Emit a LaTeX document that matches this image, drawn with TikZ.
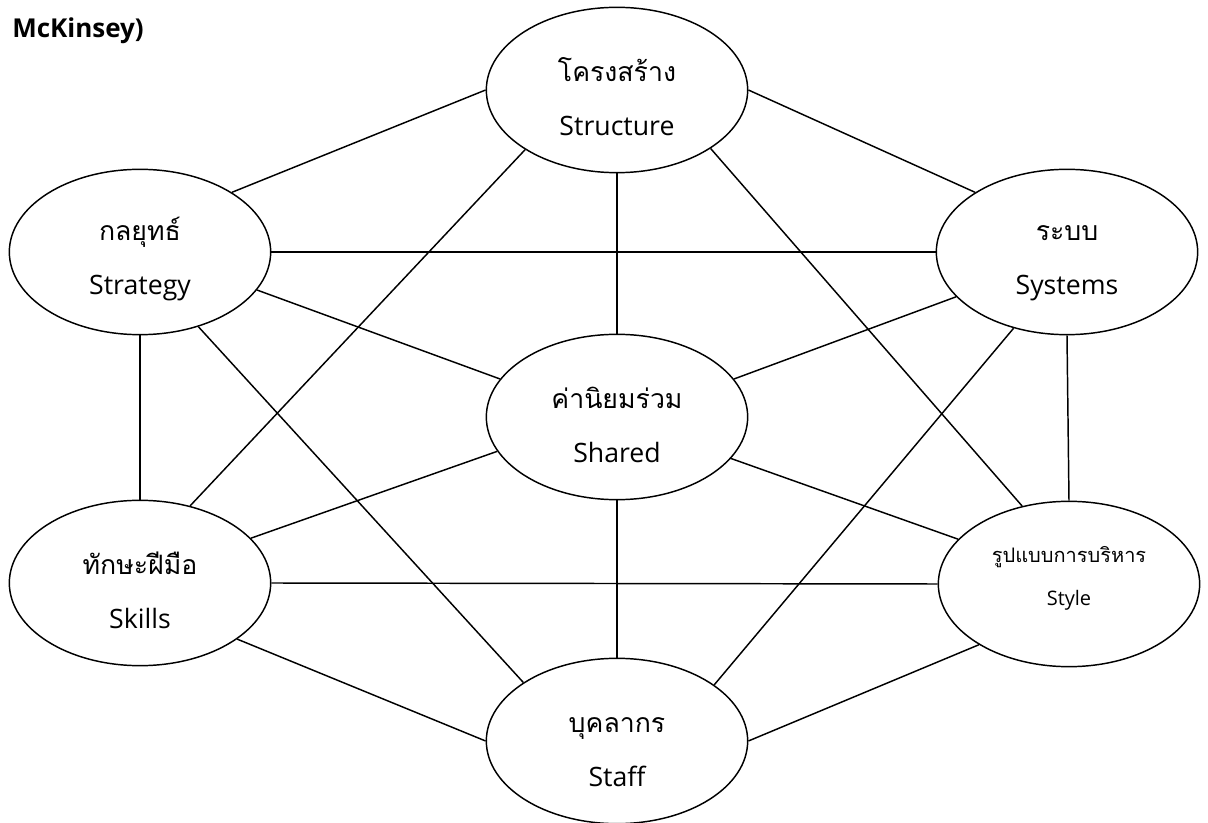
\documentclass[tikz,border=0pt]{standalone}
\usepackage{fontspec}
\setmainfont{Open Sans}
\newfontfamily\thaifont[Script=Thai]{Loma}
\usetikzlibrary{shapes.geometric}

% two lines in an oval: Thai name above, English name below
\newcommand{\sevens}[2]{\rule{0pt}{28pt}{\thaifont #1}\\#2}

\begin{document}
\begin{tikzpicture}[x=0.75pt, y=-0.75pt,
    oval/.style={ellipse, draw, line width=1.1pt, minimum width=196pt, minimum height=124pt,
                 inner sep=0pt, align=center, font=\fontsize{20}{40}\selectfont},
    smalloval/.style={oval, font=\fontsize{15}{32}\selectfont},
    link/.style={line width=1.1pt}]
    \useasboundingbox (0,0) rectangle (1208,823);

    % TITLE (cut off at the top)
    \node[anchor=base west, inner sep=0pt, font=\bfseries\fontsize{19.5}{21}\selectfont] (title) at (12,38) {McKinsey)};

    % THE SEVEN S
    \node[oval] (structure) at (617,90)  {\sevens{โครงสร้าง}{Structure}};
    \node[oval] (strategy)  at (140,252) {\sevens{กลยุทธ์}{Strategy}};
    \node[oval] (systems)   at (1067,252) {\sevens{ระบบ}{Systems}};
    \node[oval] (shared)    at (617,417) {\sevens{ค่านิยมร่วม}{Shared}};
    \node[oval] (skills)    at (140,583) {\sevens{ทักษะฝีมือ}{Skills}};
    \node[smalloval] (style) at (1069,584) {{\thaifont รูปแบบการบริหาร}\\Style\rule[-12pt]{0pt}{0pt}};
    \node[oval] (staff)     at (617,741) {\sevens{บุคลากร}{Staff}};

    % LINKS FROM STRUCTURE
    \draw[link] (structure.180) -- (strategy.33);
    \draw[link] (structure.0) -- (systems.147);
    \draw[link] (structure.213) -- (skills.57);
    \draw[link] (structure.328) -- (style.121);
    \draw[link] (structure.south) -- (shared.north);

    % LINKS FROM STRATEGY
    \draw[link] (strategy.east) -- (systems.west);
    \draw[link] (strategy.342) -- (shared.162);
    \draw[link] (strategy.308) -- (staff.148);
    \draw[link] (strategy.south) -- (skills.north);

    % LINKS FROM SYSTEMS
    \draw[link] (systems.202) -- (shared.18);
    \draw[link] (systems.235) -- (staff.30);
    \draw[link] (systems.south) -- (style.north);

    % LINKS FROM SHARED
    \draw[link] (shared.196) -- (skills.22);
    \draw[link] (shared.340) -- (style.158);
    \draw[link] (shared.south) -- (staff.north);

    % BOTTOM ROW
    \draw[link] (skills.east) -- (style.west);
    \draw[link] (skills.330) -- (staff.west);
    \draw[link] (style.214) -- (staff.east);
\end{tikzpicture}
\end{document}
